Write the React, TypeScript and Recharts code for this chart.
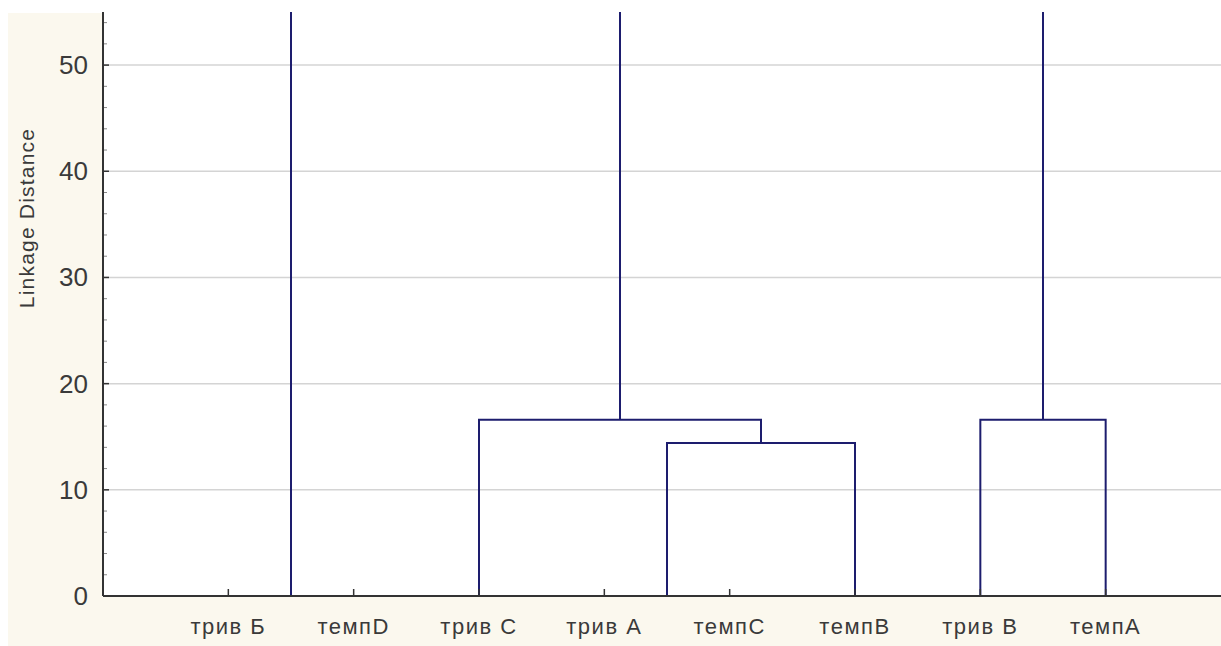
import { LineChart, Line, XAxis, YAxis, CartesianGrid } from 'recharts'

// leaf order along the bottom axis
const LEAVES = ['трив Б', 'темпD', 'трив С', 'трив А', 'темпС', 'темпВ', 'трив В', 'темпА']

// joins: [left node, right node, linkage distance]
// leaves are nodes 0..7, each join makes a new node from 8 on
const MERGES: [number, number, number][] = [
  [0, 1, 0],
  [3, 4, 0],
  [9, 5, 14.4],
  [2, 10, 16.6],
  [6, 7, 16.6],
]

// clusters whose next join is above the top of the plot
const OPEN_NODES = [8, 11, 12]

const Y_MAX = 55
const Y_MAJOR = [0, 10, 20, 30, 40, 50]
const Y_TICKS = [
  0, 2, 4, 6, 8, 10, 12, 14, 16, 18, 20, 22, 24, 26, 28, 30, 32, 34, 36, 38, 40, 42, 44, 46, 48,
  50, 52, 54,
]

const FONT = '"Liberation Sans", Arial, sans-serif'
const LINK_COLOR = '#1d1d6e'
const AXIS_COLOR = '#333'
const TEXT_COLOR = '#3a3a3a'

type Pt = { x: number; y: number }

function buildSegments() {
  const nodeX: number[] = LEAVES.map((_, i) => i + 1)
  const nodeH: number[] = LEAVES.map(() => 0)
  const segs: Pt[][] = []
  MERGES.forEach(([a, b, h]) => {
    nodeX.push((nodeX[a] + nodeX[b]) / 2)
    nodeH.push(h)
    if (h > 0) {
      segs.push([
        { x: nodeX[a], y: nodeH[a] },
        { x: nodeX[a], y: h },
        { x: nodeX[b], y: h },
        { x: nodeX[b], y: nodeH[b] },
      ])
    }
  })
  OPEN_NODES.forEach((n) => {
    segs.push([
      { x: nodeX[n], y: nodeH[n] },
      { x: nodeX[n], y: Y_MAX },
    ])
  })
  return segs
}

const SEGMENTS = buildSegments()

function XTick(props: any) {
  const { x, y, payload } = props
  return (
    <g>
      <line x1={x} x2={x} y1={y - 1} y2={y - 7} stroke={AXIS_COLOR} strokeWidth={1.5} />
      <text
        x={x}
        y={y + 38}
        textAnchor="middle"
        fill={TEXT_COLOR}
        fontSize={22}
        fontFamily={FONT}
        letterSpacing={1.5}
      >
        {LEAVES[payload.value - 1]}
      </text>
    </g>
  )
}

function YTick(props: any) {
  const { x, y, payload } = props
  const major = Y_MAJOR.includes(payload.value)
  if (!major) {
    return <line x1={x + 1} x2={x + 4} y1={y} y2={y} stroke="#888" strokeWidth={1} />
  }
  return (
    <g>
      <line x1={x + 1} x2={x + 6} y1={y} y2={y} stroke={AXIS_COLOR} strokeWidth={1.5} />
      <text
        x={x - 15}
        y={y}
        dy={9}
        textAnchor="end"
        fill={TEXT_COLOR}
        fontSize={26}
        fontFamily={FONT}
      >
        {payload.value}
      </text>
    </g>
  )
}

function YLabel(props: any) {
  const { viewBox } = props
  const cx = viewBox.x + 27
  const cy = viewBox.y + 206
  return (
    <text
      x={cx}
      y={cy}
      dy={7}
      transform={`rotate(-90, ${cx}, ${cy})`}
      textAnchor="middle"
      fill={TEXT_COLOR}
      fontSize={21}
      fontFamily={FONT}
      letterSpacing={1.2}
    >
      Linkage Distance
    </text>
  )
}

export default function App() {
  return (
    <div style={{ position: 'relative', width: 1221, height: 646, overflow: 'hidden', background: '#fff' }}>
      <style>{'body{margin:0;overflow:hidden}'}</style>
      <div
        style={{ position: 'absolute', left: 8, top: 13, width: 1213, height: 633, background: '#fbf8ee' }}
      />
      <div style={{ position: 'absolute', left: 0, top: 0 }}>
        <LineChart width={1240} height={646} margin={{ top: 12, right: 9, bottom: 0, left: 0 }}>
          <CartesianGrid
            vertical={false}
            horizontalValues={Y_MAJOR}
            stroke="#d4d4d4"
            strokeWidth={1.5}
            fill="#fff"
            fillOpacity={1}
          />
          <XAxis
            type="number"
            dataKey="x"
            domain={[0, 9]}
            ticks={LEAVES.map((_, i) => i + 1)}
            interval={0}
            height={50}
            tickSize={0}
            tickMargin={0}
            tickLine={false}
            tick={<XTick />}
            axisLine={{ stroke: AXIS_COLOR, strokeWidth: 2 }}
            allowDataOverflow
          />
          <YAxis
            type="number"
            domain={[0, Y_MAX]}
            ticks={Y_TICKS}
            interval={0}
            width={103}
            tickSize={0}
            tickMargin={0}
            tickLine={false}
            tick={<YTick />}
            axisLine={{ stroke: AXIS_COLOR, strokeWidth: 2 }}
            allowDataOverflow
            label={<YLabel />}
          />
          {SEGMENTS.map((seg, i) => (
            <Line
              key={i}
              data={seg}
              dataKey="y"
              type="linear"
              stroke={LINK_COLOR}
              strokeWidth={2}
              dot={false}
              activeDot={false}
              isAnimationActive={false}
            />
          ))}
        </LineChart>
      </div>
    </div>
  )
}
